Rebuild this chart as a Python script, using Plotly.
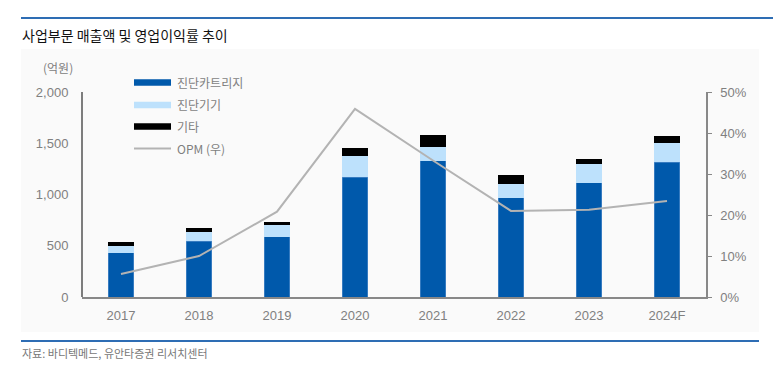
import plotly.graph_objects as go

years = ["2017", "2018", "2019", "2020", "2021", "2022", "2023", "2024F"]
cartridge = [430, 545, 588, 1168, 1327, 969, 1115, 1314]
device = [70, 88, 111, 204, 140, 130, 179, 185]
other = [35, 40, 36, 78, 116, 88, 55, 72]
opm = [5.6, 10.0, 20.8, 45.9, 33.3, 21.0, 21.3, 23.4]

left_ticks = [0, 500, 1000, 1500, 2000]
right_ticks = [0, 10, 20, 30, 40, 50]
right_labels = ["0%", "10%", "20%", "30%", "40%", "50%"]

W, H = 773, 371
L, R, T, B = 82, 706, 92, 297

def px(x):
    return (x - L) / (R - L)

def py(y):
    return (B - y) / (B - T)

KFONT = "Noto Sans CJK KR"
NFONT = "Liberation Sans"

fig = go.Figure()
fig.add_trace(go.Bar(x=years, y=cartridge, marker=dict(color="#0059AB", line=dict(width=0.6, color="#5a93cf")), width=0.33, name="진단카트리지"))
fig.add_trace(go.Bar(x=years, y=device, marker=dict(color="#BDE1FC", line=dict(width=0)), width=0.33, name="진단기기"))
fig.add_trace(go.Bar(x=years, y=other, marker=dict(color="#000000", line=dict(width=0)), width=0.33, name="기타"))
fig.add_trace(go.Scatter(x=years, y=opm, mode="lines", line=dict(color="#B3B3B3", width=2), yaxis="y2", name="OPM (우)"))

shapes = []
shapes.append(dict(type="rect", xref="paper", yref="paper", x0=px(21), x1=px(759), y0=py(332), y1=py(49),
                   fillcolor="#FAFAFA", line=dict(width=0), layer="below"))
shapes.append(dict(type="line", xref="paper", yref="paper", x0=px(21), x1=px(773), y0=py(18), y1=py(18),
                   line=dict(color="#2E6DB4", width=2)))
shapes.append(dict(type="line", xref="paper", yref="paper", x0=px(21), x1=px(759), y0=py(341), y1=py(341),
                   line=dict(color="#2E6DB4", width=2)))
shapes.append(dict(type="line", xref="paper", yref="paper", x0=0, x1=0, y0=0, y1=1,
                   line=dict(color="#000000", width=1)))

leg = [("진단카트리지", "#0059AB", 82.5), ("진단기기", "#BDE1FC", 105), ("기타", "#000000", 126.5)]
annotations = []
for name, col, yc in leg:
    shapes.append(dict(type="rect", xref="paper", yref="paper", x0=px(134), x1=px(171), y0=py(yc + 3.3), y1=py(yc - 3.3),
                       fillcolor=col, line=dict(width=0)))
    annotations.append(dict(text=name, xref="paper", yref="paper", x=px(175), y=py(yc), xanchor="left", yanchor="middle",
                            showarrow=False, font=dict(family=KFONT, size=12, color="#7F7F7F")))
shapes.append(dict(type="line", xref="paper", yref="paper", x0=px(134), x1=px(171), y0=py(148.5), y1=py(148.5),
                   line=dict(color="#B3B3B3", width=2)))
annotations.append(dict(text="OPM (우)", xref="paper", yref="paper", x=px(175), y=py(148.5), xanchor="left", yanchor="middle",
                        showarrow=False, font=dict(family=KFONT, size=12, color="#7F7F7F")))

annotations.append(dict(text="사업부문 매출액 및 영업이익률 추이", xref="paper", yref="paper", x=px(20), y=py(35),
                        xanchor="left", yanchor="middle", showarrow=False,
                        font=dict(family=KFONT, size=14, color="#111111")))
annotations.append(dict(text="(억원)", xref="paper", yref="paper", x=px(75), y=py(68),
                        xanchor="right", yanchor="middle", showarrow=False,
                        font=dict(family=KFONT, size=12, color="#808080")))
annotations.append(dict(text="자료: 바디텍메드, 유안타증권 리서치센터", xref="paper", yref="paper", x=px(20), y=py(353),
                        xanchor="left", yanchor="middle", showarrow=False,
                        font=dict(family=KFONT, size=11, color="#777777")))

fig.update_layout(
    width=W, height=H,
    margin=dict(l=L, r=W - R, t=T, b=H - B, pad=0),
    barmode="stack",
    showlegend=False,
    paper_bgcolor="#FFFFFF",
    plot_bgcolor="rgba(0,0,0,0)",
    font=dict(family=NFONT, size=13, color="#808080"),
    xaxis=dict(type="category", range=[-0.5, 7.5], showgrid=False, showline=True, linecolor="#888888", linewidth=1.5,
               ticks="", ticklabelstandoff=6, tickfont=dict(family=NFONT, size=13, color="#808080")),
    yaxis=dict(range=[0, 2000], tickvals=left_ticks, tickformat=",d", showgrid=False, showline=False, zeroline=False,
               ticks="outside", ticklen=0, ticklabelstandoff=10, tickfont=dict(family=NFONT, size=13, color="#808080")),
    yaxis2=dict(range=[0, 50], tickmode="array", tickvals=right_ticks, ticktext=right_labels, overlaying="y", side="right",
                showgrid=False, showline=True, linecolor="#888888", linewidth=1.5, zeroline=False,
                ticks="outside", ticklen=4, tickcolor="#888888", ticklabelstandoff=6,
                tickfont=dict(family=NFONT, size=13, color="#808080")),
    shapes=shapes,
    annotations=annotations,
)

fig.write_html("out.html")
